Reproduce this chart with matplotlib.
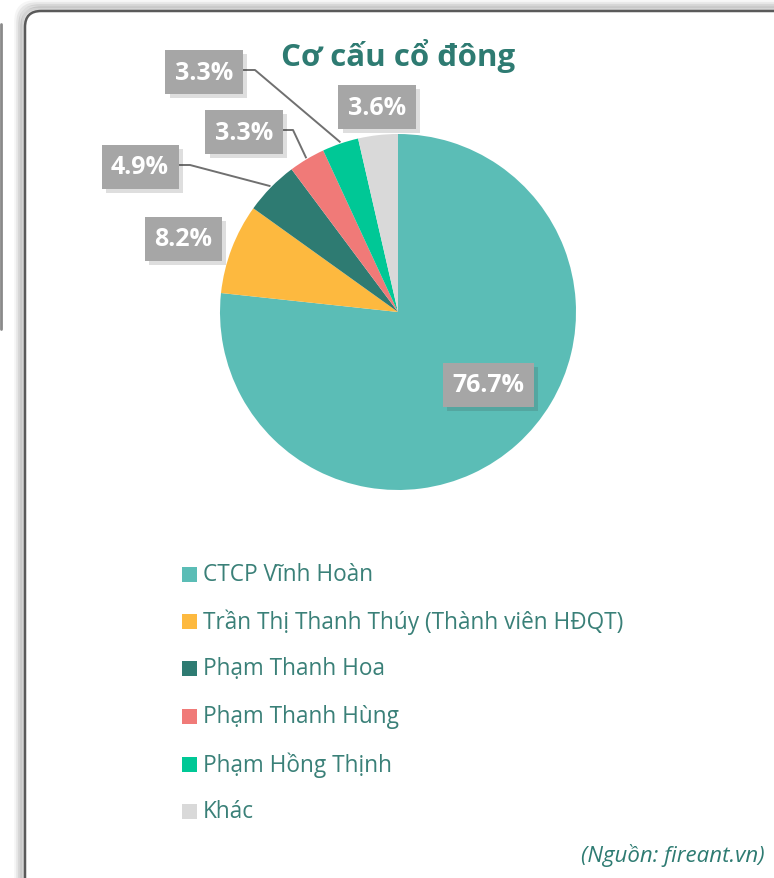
import numpy as np
import matplotlib
matplotlib.use('Agg')
from matplotlib import pyplot as plt
from matplotlib.patches import FancyBboxPatch, Rectangle
import matplotlib.patheffects as pe

plt.rcParams['font.family'] = ['Open Sans', 'DejaVu Sans']

title = 'Cơ cấu cổ đông'
holders = ['CTCP Vĩnh Hoàn', 'Trần Thị Thanh Thúy (Thành viên HĐQT)', 'Phạm Thanh Hoa',
           'Phạm Thanh Hùng', 'Phạm Hồng Thịnh', 'Khác']
shares = [76.7, 8.2, 4.9, 3.3, 3.3, 3.6]
colors = ['#5BBDB6', '#FDB93F', '#2E7B72', '#F07A78', '#00C896', '#D9D9D9']
source = '(Nguồn: fireant.vn)'

W, H = 774, 879
fig = plt.figure(figsize=(W / 100, H / 100), dpi=100)
fig.patch.set_facecolor('white')
ax = fig.add_axes([0, 0, 1, 1])


def py(y):
    # pixel row from the top -> data y
    return H - y


# left neighbour panel edge
ax.plot([1, 1], [py(25), py(330)], color='#8a8a8a', lw=2, solid_capstyle='round', zorder=1)

# panel with soft shadow
for i, a in enumerate([0.04, 0.06, 0.08, 0.10]):
    off = 8 - 2 * i
    sh = FancyBboxPatch((25 - off, py(920)), 820 + 2 * off, 920 - 12 + off,
                        boxstyle='round,pad=0,rounding_size=18', fc='none',
                        ec='black', lw=4, alpha=a, zorder=1)
    ax.add_patch(sh)
panel = FancyBboxPatch((25, py(920)), 820, 920 - 12, boxstyle='round,pad=0,rounding_size=16',
                       fc='white', ec='#5a5a5a', lw=1.8, zorder=2)
ax.add_patch(panel)

text_col = '#2E7B72'
ax.text(398, py(56), title, ha='center', va='center', fontsize=22.5, fontweight='bold',
        color=text_col, zorder=5)

# pie
cx, cy, r = 398, py(313), 178
wedges, _ = ax.pie(shares, colors=colors, startangle=90, counterclock=False,
                   center=(cx, cy), radius=r, frame=True,
                   wedgeprops=dict(linewidth=0))
for w in wedges:
    w.set_zorder(3)
ax.set_xlim(0, W)
ax.set_ylim(0, H)
ax.set_aspect('equal')
ax.axis('off')

# label boxes: centre (x, y) in pixels, and leader elbow x
label_pos = [(488, 386), (183, 240), (140, 168), (244, 133), (204, 73), (377, 108)]
leaders = [None, None, 190, 293, 255, None]
cum = np.cumsum([0] + shares)
for i, (val, (lx, ly)) in enumerate(zip(shares, label_pos)):
    mid = 90 - 360 * (cum[i] + val / 2) / 100
    if leaders[i] is not None:
        ex = cx + (r + 2) * np.cos(np.radians(mid))
        ey = cy + (r + 2) * np.sin(np.radians(mid))
        ax.plot([lx + 40, leaders[i], ex], [py(ly - 2), py(ly - 2), ey],
                color='#707070', lw=1.4, zorder=4)
    t = ax.text(lx, py(ly), f'{val:.1f}%', ha='center', va='center', fontsize=18,
                fontweight='bold', color='white', zorder=6,
                bbox=dict(boxstyle='square,pad=0.38', fc='#A6A6A6', ec='none'))
    t.get_bbox_patch().set_path_effects([pe.SimplePatchShadow(offset=(3, -3), alpha=0.16),
                                         pe.Normal()])

# legend
leg_y = [575, 622, 669, 717, 765, 812]
for name, col, y in zip(holders, colors, leg_y):
    ax.add_patch(Rectangle((182, py(y) - 7.5), 15, 15, fc=col, ec='none', zorder=5))
    ax.text(203, py(y), name, ha='left', va='center', fontsize=16.3, color='#3A8078', zorder=5)

ax.text(765, py(856), source, ha='right', va='center', fontsize=16, style='italic',
        color=text_col, zorder=5)

fig.savefig('out.png', dpi=100)
